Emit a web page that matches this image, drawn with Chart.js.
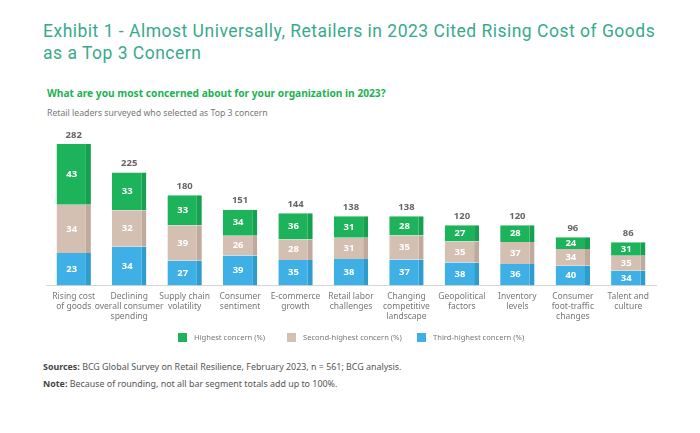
<!DOCTYPE html>
<html>
<head>
<meta charset="utf-8">
<script src="https://cdn.jsdelivr.net/npm/chart.js@4"></script>
<style>
  html, body { margin: 0; padding: 0; background: #fff; }
  body { width: 700px; height: 433px; position: relative; overflow: hidden; font-family: "Noto Sans", sans-serif; }
  .abs { position: absolute; white-space: nowrap; }
  #title { left: 43px; top: 20px; font-family: Roboto, sans-serif; font-size: 17.5px; letter-spacing: 0.5px; line-height: 22px; color: #38aa8c; }
  #subtitle { left: 47px; top: 86px; font-size: 10.2px; font-weight: bold; color: #1db254; }
  #caption { left: 47px; top: 107px; font-size: 8.7px; color: #777; }
  #chartWrap { position: absolute; left: 0; top: 120px; width: 700px; height: 214px; }
  .leg { position: absolute; top: 332px; font-size: 7.6px; color: #777; display: flex; align-items: center; }
  .leg span.box { width: 9px; height: 9px; display: inline-block; margin-right: 7px; }
  .foot { left: 43px; font-size: 8.9px; color: #555; }
  .foot b { color: #444; }
</style>
</head>
<body>
<div id="title" class="abs">Exhibit 1 - Almost Universally, Retailers in 2023 Cited Rising Cost of Goods<br>as a Top 3 Concern</div>
<div id="subtitle" class="abs">What are you most concerned about for your organization in 2023?</div>
<div id="caption" class="abs">Retail leaders surveyed who selected as Top 3 concern</div>
<div id="chartWrap"><canvas id="chart"></canvas></div>
<div class="leg" style="left:178px"><span class="box" style="background:#1db35a"></span>Highest concern (%)</div>
<div class="leg" style="left:287px"><span class="box" style="background:#d4bfb3"></span>Second-highest concern (%)</div>
<div class="leg" style="left:417px"><span class="box" style="background:#3eb0e5"></span>Third-highest concern (%)</div>
<div class="abs foot" style="top:360px"><b>Sources:</b> BCG Global Survey on Retail Resilience, February 2023, n = 561; BCG analysis.</div>
<div class="abs foot" style="top:377px"><b>Note:</b> Because of rounding, not all bar segment totals add up to 100%.</div>
<script>
const categories = [
    ["Rising cost", "of goods"],
    ["Declining", "overall consumer", "spending"],
    ["Supply chain", "volatility"],
    ["Consumer", "sentiment"],
    ["E-commerce", "growth"],
    ["Retail labor", "challenges"],
    ["Changing", "competitive", "landscape"],
    ["Geopolitical", "factors"],
    ["Inventory", "levels"],
    ["Consumer", "foot-traffic", "changes"],
    ["Talent and", "culture"]
];
// total respondents selecting each concern
const totals = [282, 225, 180, 151, 144, 138, 138, 120, 120, 96, 86];
// share of each total (%)
const highestPct = [43, 33, 33, 34, 36, 31, 28, 27, 28, 24, 31];
const secondPct  = [34, 32, 39, 26, 28, 31, 35, 35, 37, 34, 35];
const thirdPct   = [23, 34, 27, 39, 35, 38, 37, 38, 36, 40, 34];

// segment height = share of the bar total
function segment(pcts, i) {
    const sum = highestPct[i] + secondPct[i] + thirdPct[i];
    return totals[i] * pcts[i] / sum;
}
const third = totals.map((t, i) => segment(thirdPct, i));
const second = totals.map((t, i) => segment(secondPct, i));
const highest = totals.map((t, i) => segment(highestPct, i));

const edge = { top: 0, right: 5, bottom: 0, left: 0 };

const labelPlugin = {
    id: 'labelPlugin',
    afterDatasetsDraw(chart) {
        const ctx = chart.ctx;
        ctx.save();
        ctx.textAlign = 'center';
        ctx.textBaseline = 'middle';
        const pcts = [thirdPct, secondPct, highestPct];
        chart.data.datasets.forEach((ds, d) => {
            const meta = chart.getDatasetMeta(d);
            meta.data.forEach((bar, i) => {
                ctx.fillStyle = '#fff';
                ctx.font = 'bold 9.5px "Noto Sans"';
                ctx.fillText(pcts[d][i], bar.x - 2, (bar.y + bar.base) / 2);
            });
        });
        const topMeta = chart.getDatasetMeta(2);
        topMeta.data.forEach((bar, i) => {
            ctx.fillStyle = '#666';
            ctx.font = 'bold 9.5px "Noto Sans"';
            ctx.fillText(totals[i], bar.x, bar.y - 9);
        });
        ctx.restore();
    }
};

new Chart(document.getElementById('chart'), {
    type: 'bar',
    data: {
        labels: categories,
        datasets: [
            { label: 'Third-highest concern (%)', data: third, backgroundColor: '#3eb0e5', borderColor: '#2f9ccf', borderWidth: edge, borderSkipped: false },
            { label: 'Second-highest concern (%)', data: second, backgroundColor: '#d4bfb3', borderColor: '#c0aa9e', borderWidth: edge, borderSkipped: false },
            { label: 'Highest concern (%)', data: highest, backgroundColor: '#1db35a', borderColor: '#17a04f', borderWidth: edge, borderSkipped: false }
        ]
    },
    options: {
        responsive: true,
        maintainAspectRatio: false,
        animation: false,
        layout: { padding: { left: 46, right: 44, top: 15, bottom: 6 } },
        datasets: { bar: { barPercentage: 0.62, categoryPercentage: 1 } },
        scales: {
            x: {
                stacked: true,
                grid: { display: false, drawTicks: false },
                border: { color: '#d6d6d6' },
                ticks: { color: '#777', font: { size: 8.5, family: 'Noto Sans', lineHeight: 1.2 }, padding: 6, maxRotation: 0, autoSkip: false }
            },
            y: { stacked: true, display: false, min: 0, max: 300 }
        },
        plugins: { legend: { display: false }, tooltip: { enabled: false } }
    },
    plugins: [labelPlugin]
});
</script>
</body>
</html>
